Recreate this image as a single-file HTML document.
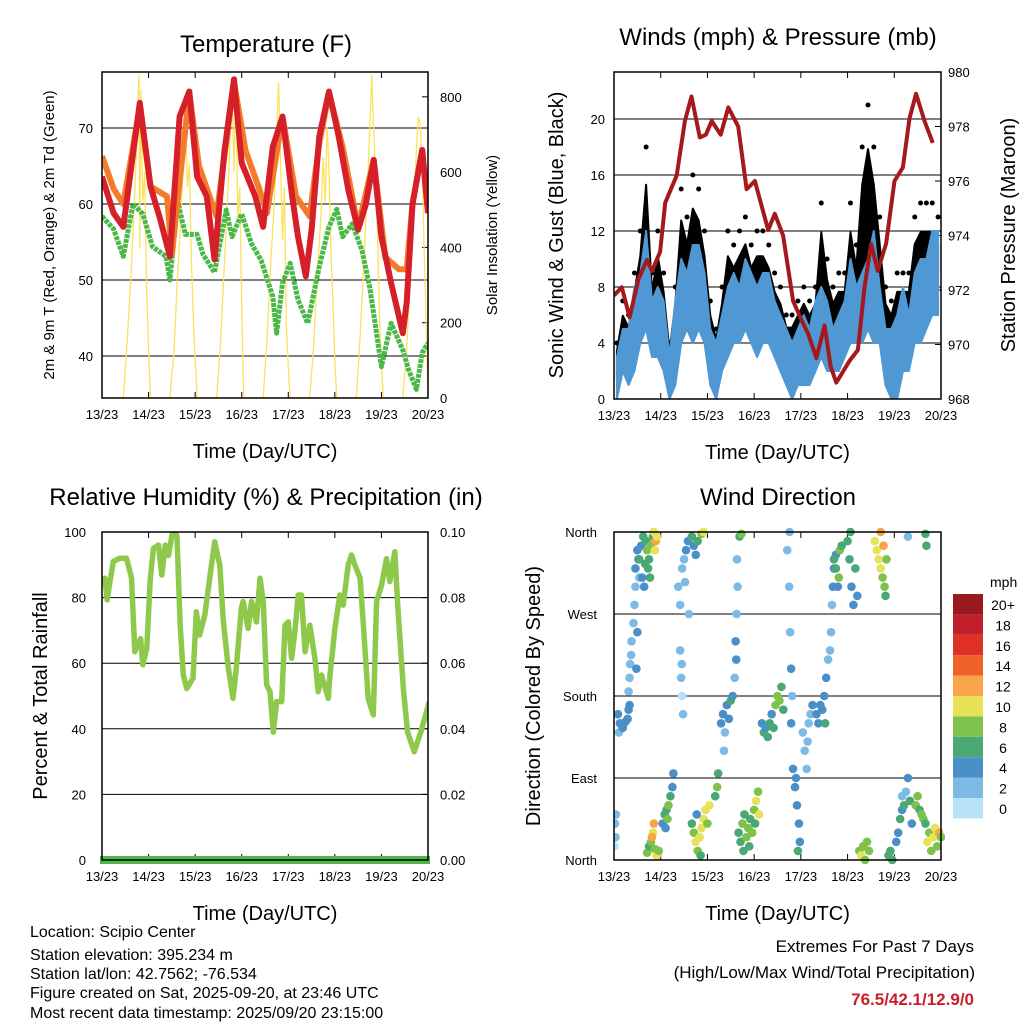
<!DOCTYPE html>
<html><head><meta charset="utf-8"><style>
html,body{margin:0;padding:0;background:#fff}
svg{display:block;font-family:"Liberation Sans",Arial,sans-serif}
</style></head><body>
<svg id="fig" width="1024" height="1024" viewBox="0 0 1024 1024" xmlns="http://www.w3.org/2000/svg">
<rect width="1024" height="1024" fill="#fff"/>
<g id="p1"></g>
<g id="p2"></g>
<g id="p3"></g>
<g id="p4"></g>
<g font-size="16" fill="#000">
<text x="30" y="937">Location: Scipio Center</text>
<text x="30" y="960">Station elevation: 395.234 m</text>
<text x="30" y="979">Station lat/lon: 42.7562; -76.534</text>
<text x="30" y="998">Figure created on Sat, 2025-09-20, at 23:46 UTC</text>
<text x="30" y="1018">Most recent data timestamp: 2025/09/20 23:15:00</text>
</g>
<g text-anchor="end">
<text x="974" y="952" font-size="17">Extremes For Past 7 Days</text>
<text x="975" y="978" font-size="17">(High/Low/Max Wind/Total Precipitation)</text>
<text x="974" y="1005" font-size="17" font-weight="bold" fill="#c8202a">76.5/42.1/12.9/0</text>
</g>
</svg>
<script>
// ---------- DATA ----------
const dayLabels = ["13/23","14/23","15/23","16/23","17/23","18/23","19/23","20/23"];
// Temperature (hours since start, deg F)
const redT = [0,6,11,19.5,25,30,35,40,45,49,54,58,63,68,72,79,83,88,93,98,101,105,108,112,117,122,127,132,136,140,144,149,155,157,160,165,168];
const redV = [63.6,58.8,57,73.3,62.3,58,53.1,71.5,74.8,63.6,61,52.7,66.8,76.4,65.4,61,57,67.5,71.5,61,55.7,50.5,56.6,68.9,74.8,68.9,61.8,56.6,60,65.8,55.7,49.6,43,47,60,67.1,58.8];
const orgT = [0,6,11,19.5,25,33.5,36,45,50,59,68,74,81,85,93,100,107,112,117,124,132,140,146,153,157,160,165,168];
const orgV = [66.3,62,60,72.8,62.3,61,53.5,74.6,65,58.4,76,67,62,58.8,71.5,61,58.4,68,74.6,67.5,57,65.8,53,51.4,51.4,60,67.1,59.3];
const grnT = [0,6,11,16,21,26,33,35,39,43,49,52,58,64,67,72,77,82,88,90,93,97,101,106,112,117,121,124,129,134,138,144,149,155,158,162,165,168];
const grnV = [58.4,56.7,53.1,60,58.7,54.4,53.1,50,60.3,56,56,53.4,51,59.2,55.7,58.7,54.8,52.6,47.8,43,49.6,52.2,47.4,44.3,51.8,57,59.3,55.7,57.4,53.9,49,38.6,44.3,40.8,38.2,35.6,40.4,41.7];
const solT = [0,11,13,15,17,18,19,19.5,20,21,22,23,24,25,35,37,39,41,42,43,44,45,46,47,48,49,59,61,63,65,66,67,68,69,70,71,72,73,83,85,87,89,90,91,92,93,94,95,96,97,107,109,111,113,114,115,116,117,118,119,120,121,131,133,135,137,138,139,140,141,142,143,144,145,155,157,159,161,162,163,164,165,166,167,168];
const solV = [0,0,150,330,560,700,860,400,820,520,600,300,120,0,0,120,330,520,640,739,560,620,380,220,110,0,0,140,350,560,690,840,600,853,480,560,250,0,0,150,360,540,700,838,640,420,560,200,80,0,0,130,330,500,640,520,720,610,380,260,90,0,0,160,370,580,720,859,700,600,430,210,90,0,0,130,340,540,660,747,730,600,400,200,0];
// Winds: 3-hour bins, sustained band low/high and gust max (mph)
const windLo = [0,2,1,2,4,5,3,3,2,0,1,4,5,4,5,4,1,0,2,3,4,4,5,4,3,4,4,3,2,1,0,1,1,1,2,3,2,2,2,3,4,4,4,5,4,4,1,0,0,2,2,4,4,5,6,6];
const windHi = [3,5,5,8,9,12,7,8,7,3,7,10,9,11,11,9,5,4,6,8,9,8,10,9,8,9,9,7,6,5,4,5,6,5,7,8,7,5,6,7,10,8,9,10,12,8,5,5,6,8,6,9,10,10,12,12];
const gustHi = [4,7,6,9,12,18,9,12,9,4,8,15,13,16,15,12,7,5,8,12,11,12,13,11,12,12,11,9,8,6,6,7,8,7,8,14,10,8,9,9,14,11,18,21,18,13,8,7,9,9,9,13,14,14,14,13];
// Station pressure (hours, mb)
const presT = [0,4,8,12.6,16.9,19.5,23.7,26.3,32.2,36.4,39.8,44.1,47.2,50.2,54.8,58.7,63.8,68.1,72.4,75.8,79.2,82.6,86.9,92,96.3,99.7,104,108.2,111.3,114.2,121,125.3,128.7,132.1,135.5,139.8,144.1,148.4,151.8,155.2,159.5,163.8];
const presV = [971.8,972.1,971,972.4,973.1,972.7,973.4,975.2,976.2,978.2,979.1,977.6,977.7,978.2,977.7,978.7,978,975.7,976,975.1,974.2,974.8,974,971.6,970.9,970.4,969.5,970.7,969.2,968.6,969.4,969.8,972.1,973.7,972.7,973.7,976,976.5,978.3,979.2,978.2,977.4];
// Wind direction scatter: hours, degrees, speed (mph)
const dirT = [0.5,0.8,1,0.3,2,3,4,5,6,7,7.5,2.5,8,4.5,7.5,8,8.3,8.8,9,10,10.5,11,12,11.5,13,12.5,11,12,13,14,15,16,16.5,17,18,18.5,19,20,20.5,21.5,21,22,15.5,14.5,17.5,17,18,19,20,19.5,21,22,23,20.5,25,26,27,28,29,30,27.5,26.5,30.5,33,34,35,36,37,38,36.5,38.5,34,34.5,35,35.5,34.8,40,41,42,43,44,45,46,47,48,44.5,42.5,49,40,41,42,43,45,46,52,53,53.5,55,56,57,58,59,60,61,56.5,62,62.5,63,63.5,62.8,63.2,64,65,66,67,68,69,70,71,72,73,74,74.5,66.5,69.5,72.5,64.5,65.5,76,77,78,79,80,81,82,83,84,85,86,87,89,90,90.5,91,91.5,90.2,91,92,93,94,95,95.5,94.5,93.5,97,98,99,100,101,102,99.5,104,105,106,107,108,109,110,111,108.5,111.5,112,112.5,113,114,113,114,115,116,115.5,117,120,121,122,123,121.5,124,125,126,127,128,129,130,131,134,135,136,137,138,139,138.5,137,140,139.5,141,142,143,145,146,147,148,149,150,151,152,153,148,155,156,157,158,159,160,161,162,163,164,165,166,167,168,151,160,160.5];
const dirD = [40,25,50,15,160,150,148,150,152,155,165,140,170,145,185,200,215,225,240,260,280,300,250,210,310,330,320,340,330,345,355,325,350,340,330,310,345,355,360,350,340,355,300,310,320,8,15,20,30,25,12,5,10,40,40,50,55,60,70,80,45,35,95,300,280,320,330,340,350,305,270,230,200,180,160,215,40,30,20,10,25,35,45,55,40,5,50,60,355,345,335,350,358,360,70,80,95,150,160,140,170,155,175,180,120,200,240,270,300,220,330,30,20,40,50,25,35,45,30,55,65,75,50,10,15,40,355,358,150,140,145,135,150,160,145,170,180,175,190,165,340,300,250,210,180,360,150,100,80,60,40,20,10,90,140,120,100,150,160,170,130,160,150,170,165,180,200,220,230,150,250,280,300,320,335,330,320,300,340,310,345,350,330,300,280,360,320,290,10,5,15,0,20,10,350,340,330,320,310,300,345,360,330,290,5,10,0,20,30,45,55,60,75,90,65,40,70,60,70,55,50,45,40,20,30,10,25,35,15,30,25,355,358,345];
const dirS = [1,1,1,0,3,4,4,4,3,4,4,2,3,4,2,2,2,2,2,2,2,2,3,3,2,3,3,4,5,4,6,6,5,7,6,5,7,6,10,11,10,9,4,3,6,7,6,8,10,12,8,9,8,11,4,5,6,7,5,4,8,4,4,1,2,1,2,3,4,2,2,1,1,0,1,1,6,8,9,7,10,10,10,9,8,6,4,10,6,4,4,5,7,9,6,7,6,3,4,2,4,3,5,4,2,2,3,2,2,4,2,6,6,7,6,8,7,6,8,8,9,8,9,5,6,6,6,8,4,6,4,5,6,4,5,8,8,7,6,6,2,2,2,3,2,2,4,4,4,4,4,4,6,4,1,2,1,2,2,3,2,3,4,4,3,4,3,2,2,6,2,2,3,3,4,6,6,4,7,8,6,6,6,4,4,6,6,4,8,9,8,8,8,7,10,9,10,10,8,8,12,12,8,6,6,6,6,4,4,5,4,6,2,3,5,4,2,8,7,6,8,7,6,10,8,8,9,10,8,12,8,1,6,6];
// Relative humidity (hours, %)
const rhT = [0,1.5,2.7,4.1,5.8,9.2,12.6,15.2,16.9,19.9,21,23.1,24.8,26.5,29.1,30.8,32.6,34.3,36,38.6,40.3,41.9,43.7,46.9,48.6,50.3,53,55.5,58.1,60.7,62.4,64.9,67.5,69.2,71.8,72.7,75.3,77.1,79.6,81.4,83.1,84.8,86.6,88.3,90,92.6,94.3,96,97.7,99.4,101.1,102.8,104.6,107.1,109.7,111.4,113.1,116.6,117.5,120,122.6,124.3,126.9,128.6,130.3,133,134.7,137.2,139.8,141.5,144.1,146.6,148.3,150.9,152.6,155.4,157.5,160.9,164.3,168.7];
const rhV = [83.8,85.9,79.3,84.9,91,92,92,86,63.5,67.5,59.5,64.6,84.9,95,96,86.9,96,92.9,99,99,71.6,56.4,52.3,55.4,75.7,68.6,74.7,85.9,97,89.9,73.7,59.5,49.3,58.5,76.7,78.8,70.6,78.8,72.6,85.9,78.8,53.4,51.3,39,48.3,48.3,71.6,72.6,61.5,69.6,80.8,80.8,63.5,71.6,61.5,51.3,56.4,49.3,56.4,70.6,80.8,77.7,90,93,90,85.9,71.6,49.3,44.2,78.8,83.8,91.9,84.9,94,75.7,51.3,39,33,39,48.3];

// ---------- HELPERS ----------
const NS = "http://www.w3.org/2000/svg";
function mk(parent, tag, attrs) {
  const e = document.createElementNS(NS, tag);
  for (const k in attrs) e.setAttribute(k, attrs[k]);
  parent.appendChild(e);
  return e;
}
function txt(parent, x, y, s, size, anchor, extra) {
  const e = mk(parent, "text", Object.assign({x: x, y: y, "font-size": size, "text-anchor": anchor || "start", fill: "#000"}, extra || {}));
  e.textContent = s;
  return e;
}
function linScale(d0, d1, r0, r1) { return v => r0 + (v - d0) / (d1 - d0) * (r1 - r0); }
function pathFrom(ts, vs, fx, fy) {
  let d = "";
  for (let i = 0; i < ts.length; i++) d += (i ? "L" : "M") + fx(ts[i]).toFixed(1) + "," + fy(vs[i]).toFixed(1);
  return d;
}
function frame(g, x0, y0, x1, y1) {
  const r = mk(g, "rect", {x: x0, y: y0, width: x1 - x0, height: y1 - y0, fill: "none", stroke: "#000", "stroke-width": 1.5});
  
  
}
function xAxis(g, x0, x1, yb, yt, title) {
  const fx = linScale(0, 168, x0, x1);
  for (let i = 0; i < dayLabels.length; i++) {
    const x = fx(i * 24);
    mk(g, "line", {x1: x, y1: yb, x2: x, y2: yb - 6, stroke: "#000", "stroke-width": 1});
    mk(g, "line", {x1: x, y1: yt, x2: x, y2: yt + 6, stroke: "#000", "stroke-width": 1});
    const t = txt(g, x, yb + 21, dayLabels[i], 13, "middle");
    
    
  }
  const tt = txt(g, (x0 + x1) / 2, yb + 60, title, 20, "middle");
  
  
  return fx;
}
function vLabel(g, x, y, s, size) {
  const t = txt(g, x, y, s, size, "middle", {transform: "rotate(-90 " + x + " " + y + ")"});
  
  
}

// ---------- PANEL 1: TEMPERATURE ----------
(function(){
  const g = document.getElementById("p1");
  const X0 = 102, X1 = 428, Y0 = 72, Y1 = 398;
  const fy = linScale(34.47, 77.37, Y1, Y0);
  const fs = linScale(0, 866, Y1, Y0);
  const clip = mk(g, "clipPath", {id: "c1"}); mk(clip, "rect", {x: X0, y: Y0, width: X1 - X0, height: Y1 - Y0});
  [40,50,60,70].forEach(v => {
    const l = mk(g, "line", {x1: X0, x2: X1, y1: fy(v), y2: fy(v), stroke: "#000", "stroke-width": 1});
     
    const t = txt(g, X0 - 9, fy(v) + 5, String(v), 13, "end");
     
  });
  [0,200,400,600,800].forEach(v => {
    mk(g, "line", {x1: X1, x2: X1 - 6, y1: fs(v), y2: fs(v), stroke: "#000"});
    const t = txt(g, X1 + 12, fs(v) + 5, String(v), 13, "start");
     
  });
  const fx = xAxis(g, X0, X1, Y1, Y0, "Time (Day/UTC)");
  const cg = mk(g, "g", {"clip-path": "url(#c1)"});
  const sol = mk(cg, "path", {d: pathFrom(solT, solV, fx, fs), fill: "none", stroke: "#fbe25c", "stroke-width": 1.3});
   
  const gr = mk(cg, "path", {d: pathFrom(grnT, grnV, fx, fy), fill: "none", stroke: "#4cb848", "stroke-width": 5, "stroke-dasharray": "4 1", "stroke-linejoin": "round"});
   
  const og = mk(cg, "path", {d: pathFrom(orgT, orgV, fx, fy), fill: "none", stroke: "#f47b2a", "stroke-width": 6, "stroke-linejoin": "round"});
   
  const rd = mk(cg, "path", {d: pathFrom(redT, redV, fx, fy), fill: "none", stroke: "#d51f29", "stroke-width": 6, "stroke-linejoin": "round"});
   
  frame(g, X0, Y0, X1, Y1);
  const t = txt(g, 266, 52, "Temperature (F)", 24, "middle");
   
  vLabel(g, 54, 235, "2m & 9m T (Red, Orange) & 2m Td (Green)", 15);
  vLabel(g, 497, 235, "Solar Insolation (Yellow)", 15);
})();

// ---------- PANEL 2: WINDS ----------
(function(){
  const g = document.getElementById("p2");
  const X0 = 614, X1 = 941, Y0 = 72, Y1 = 399;
  const fy = linScale(0, 23.36, Y1, Y0);
  const fp = linScale(968, 980, Y1, Y0);
  const clip = mk(g, "clipPath", {id: "c2"}); mk(clip, "rect", {x: X0, y: Y0, width: X1 - X0, height: Y1 - Y0});
  [4,8,12,16,20].forEach(v => {
    const l = mk(g, "line", {x1: X0, x2: X1, y1: fy(v), y2: fy(v), stroke: "#000", "stroke-width": 1});
     
  });
  [0,4,8,12,16,20].forEach(v => {
    const t = txt(g, X0 - 9, fy(v) + 5, String(v), 13, "end");
     
  });
  [968,970,972,974,976,978,980].forEach(v => {
    mk(g, "line", {x1: X1, x2: X1 - 6, y1: fp(v), y2: fp(v), stroke: "#000"});
    const t = txt(g, X1 + 7, fp(v) + 5, String(v), 13, "start");
     
  });
  const fx = xAxis(g, X0, X1, Y1, Y0, "Time (Day/UTC)");
  const cg = mk(g, "g", {"clip-path": "url(#c2)"});
  const n = gustHi.length;
  function band(top, bot, color, name) {
    let d = "";
    for (let i = 0; i < n; i++) d += (i ? "L" : "M") + fx(i * 3 + 1.5).toFixed(1) + "," + fy(top(i)).toFixed(1);
    for (let i = n - 1; i >= 0; i--) d += "L" + fx(i * 3 + 1.5).toFixed(1) + "," + fy(bot(i)).toFixed(1);
    const p = mk(cg, "path", {d: d + "Z", fill: color, stroke: color, "stroke-width": 2, "stroke-linejoin": "round"});
     
  }
  band(i => gustHi[i] * 0.85, i => (windLo[i] + windHi[i]) / 2, "#000", "gust-band");
  for (let i = 0; i < n; i++) {
    const gd = mk(cg, "circle", {cx: fx(i * 3 + 1.5), cy: fy(gustHi[i]), r: 2.5, fill: "#000"});
     
  }
  band(i => windHi[i], i => windLo[i], "#4f98d3", "wind-band");
  const pr = mk(cg, "path", {d: pathFrom(presT, presV, fx, fp), fill: "none", stroke: "#a3191c", "stroke-width": 4, "stroke-linejoin": "round"});
   
  frame(g, X0, Y0, X1, Y1);
  const t = txt(g, 778, 45, "Winds (mph) & Pressure (mb)", 24, "middle");
   
  vLabel(g, 563, 235, "Sonic Wind & Gust (Blue, Black)", 20);
  vLabel(g, 1015, 235, "Station Pressure (Maroon)", 20);
})();

// ---------- PANEL 3: HUMIDITY ----------
(function(){
  const g = document.getElementById("p3");
  const X0 = 102, X1 = 428, Y0 = 532, Y1 = 860;
  const fy = linScale(0, 100, Y1, Y0);
  const clip = mk(g, "clipPath", {id: "c3"}); mk(clip, "rect", {x: X0, y: Y0 - 4, width: X1 - X0, height: Y1 - Y0 + 8});
  [20,40,60,80].forEach(v => {
    const l = mk(g, "line", {x1: X0, x2: X1, y1: fy(v), y2: fy(v), stroke: "#000", "stroke-width": 1});
     
  });
  [0,20,40,60,80,100].forEach(v => {
    const t = txt(g, X0 - 16, fy(v) + 5, String(v), 13, "end");
     
    mk(g, "line", {x1: X1, x2: X1 - 6, y1: fy(v), y2: fy(v), stroke: "#000"});
    const t2 = txt(g, X1 + 12, fy(v) + 5, (v / 1000).toFixed(2), 13, "start");
     
  });
  const fx = xAxis(g, X0, X1, Y1, Y0, "Time (Day/UTC)");
  const cg = mk(g, "g", {"clip-path": "url(#c3)"});
  const rh = mk(cg, "path", {d: pathFrom(rhT, rhV, fx, fy), fill: "none", stroke: "#8fc94c", "stroke-width": 5.5, "stroke-linejoin": "round"});
   
  const pc = mk(g, "line", {x1: X0 - 2, x2: X1 + 2, y1: Y1, y2: Y1, stroke: "#4cb848", "stroke-width": 8});
   
  frame(g, X0, Y0, X1, Y1);
  const t = txt(g, 266, 505, "Relative Humidity (%) & Precipitation (in)", 24, "middle");
   
  vLabel(g, 47, 696, "Percent & Total Rainfall", 20);
})();

// ---------- PANEL 4: WIND DIRECTION ----------
(function(){
  const g = document.getElementById("p4");
  const X0 = 614, X1 = 941, Y0 = 532, Y1 = 860;
  const fy = linScale(0, 360, Y1, Y0);
  const colors = ["#b8e2f8","#7dbbe6","#4a8fc8","#49a873","#7dc24b","#e7e258","#f8a447","#f06129","#e03127","#c0202a","#971b1e"];
  const cbLabels = ["0","2","4","6","8","10","12","14","16","18","20+"];
  const clip = mk(g, "clipPath", {id: "c4"}); mk(clip, "rect", {x: X0, y: Y0 - 4, width: X1 - X0 + 4, height: Y1 - Y0 + 8});
  [90,180,270].forEach(v => {
    const l = mk(g, "line", {x1: X0, x2: X1, y1: fy(v), y2: fy(v), stroke: "#000", "stroke-width": 1});
     
  });
  ["North","East","South","West","North"].forEach((s, i) => {
    const t = txt(g, X0 - 17, fy(i * 90) + 5, s, 13, "end");
     
  });
  const fx = xAxis(g, X0, X1, Y1, Y0, "Time (Day/UTC)");
  const cg = mk(g, "g", {"clip-path": "url(#c4)"});
  for (let i = 0; i < dirT.length; i++) {
    const ci = Math.min(10, Math.round(dirS[i] / 2));
    const c = mk(cg, "circle", {cx: fx(dirT[i]), cy: fy(dirD[i]), r: 4.3, fill: colors[ci]});
     
  }
  frame(g, X0, Y0, X1, Y1);
  const t = txt(g, 778, 505, "Wind Direction", 24, "middle");
   
  vLabel(g, 540, 696, "Direction (Colored By Speed)", 20);
  const cb = mk(g, "g", {});
   
  const ut = txt(cb, 990, 587, "mph", 14, "start");
   
  for (let i = 0; i < colors.length; i++) {
    const y = 594 + (10 - i) * 20.4;
    const r = mk(cb, "rect", {x: 953, y: y, width: 30, height: 20.4, fill: colors[i]});
     
    const l = txt(cb, 1003, y + 16, cbLabels[i], 14, "middle");
     
  }
})();
</script>
</body></html>
